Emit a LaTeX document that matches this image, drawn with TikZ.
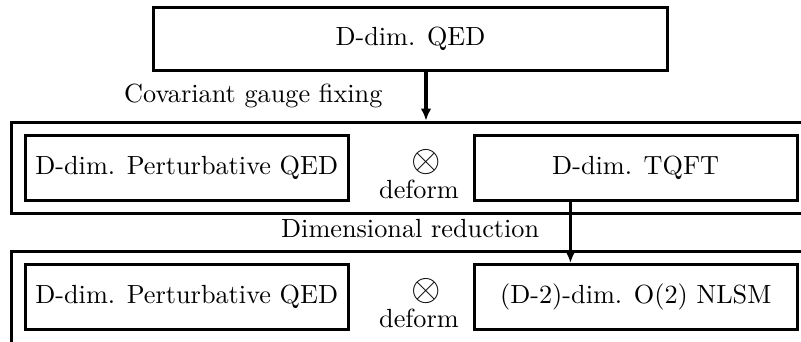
\documentclass[tikz,border=0pt]{standalone}
\usepackage{amsmath}
\usetikzlibrary{calc}
\usetikzlibrary{arrows.meta, positioning, fit}

\begin{document}
\begin{tikzpicture}[
    box/.style={draw, line width=1.15pt, minimum width=4.33cm, minimum height=0.874cm, inner sep=0pt},
    frame/.style={draw, line width=1.15pt, inner sep=4.4pt},
    arr/.style={line width=1.15pt, -{Latex[length=4.5pt,width=4pt]}}]
    \useasboundingbox (0,0) rectangle (10.725,-4.566);

    \node[box, minimum width=6.882cm, minimum height=0.837cm] (qed) at (5.496,-0.519) {D-dim. QED};

    \node[box] (pqedA) at (2.500,-2.246) {D-dim. Perturbative QED};
    \node[box] (tqft) at (8.512,-2.246) {D-dim. TQFT};
    \node (tensorA) at (5.704,-2.169) {\Large$\otimes$};
    \node (deformA) at (5.610,-2.531) {deform};
    \node[frame, fit=(pqedA)(tqft)] (rowA) {};

    \node[box] (pqedB) at (2.500,-3.977) {D-dim. Perturbative QED};
    \node[box] (nlsm) at (8.512,-3.977) {(D-2)-dim. O(2) NLSM};
    \node (tensorB) at (5.704,-3.899) {\Large$\otimes$};
    \node (deformB) at (5.610,-4.261) {deform};
    % bottom edge runs off the page
    \coordinate (belowB) at ([yshift=-3pt]nlsm.south);
    \node[frame, fit=(pqedB)(nlsm)(belowB)] (rowB) {};

    \draw[arr] (qed.south -| tensorA) -- node[midway, left=12.7pt] {Covariant gauge fixing} (rowA.north -| tensorA);
    \draw[arr] ($(tqft.south west)!.3!(tqft.south east)$) -- node[midway, left=8pt, yshift=1.5pt] {Dimensional reduction} ($(nlsm.north west)!.3!(nlsm.north east)$);
\end{tikzpicture}
\end{document}
